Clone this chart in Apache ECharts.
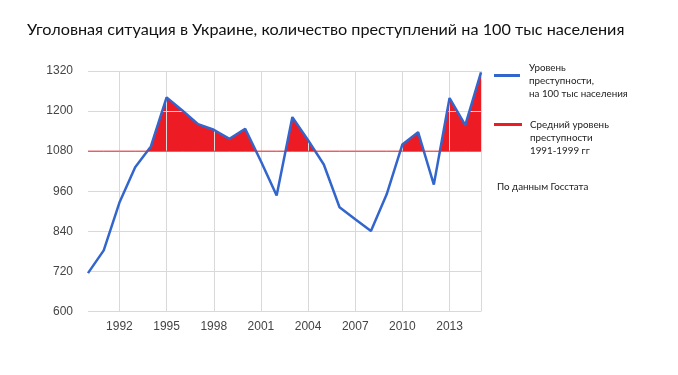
<!DOCTYPE html>
<html>
<head>
<meta charset="utf-8">
<script src="https://cdn.jsdelivr.net/npm/echarts@6/dist/echarts.min.js"></script>
<style>
  html, body { margin: 0; padding: 0; background: #fff; }
  #chart { width: 678px; height: 375px; }
</style>
</head>
<body>
<div id="chart"></div>
<script>
// ---- data ----
const years = ['1990','1991','1992','1993','1994','1995','1996','1997','1998','1999','2000',
  '2001','2002','2003','2004','2005','2006','2007','2008','2009','2010','2011','2012','2013','2014','2015'];
const crimeRate = [715, 783, 926, 1032, 1094, 1241, 1202, 1161, 1144, 1117, 1147,
  1050, 947, 1182, 1113, 1040, 912, 876, 841, 951, 1100, 1137, 980, 1239, 1158, 1316];
const avgLevel = 1080;               // average 1991-1999
const yTicks = { min: 600, max: 1320, step: 120 };
const labelStartYear = 1992;
const labelStep = 3;

const titleText = 'Уголовная ситуация в Украине, количество преступлений на 100 тыс населения';
const nameRate = 'Уровень\nпреступности,\nна 100 тыс населения';
const nameAvg = 'Средний уровень\nпреступности\n1991-1999 гг';
const sourceText = 'По данным Госстата';

const FONT = 'Lato, "Noto Sans", sans-serif';
const AXFONT = '"Liberation Sans", Arial, sans-serif';
const BLUE = '#3366cc';
const RED = '#ed1c24';
const REDLINE = '#e3262c';
const GRID = '#d9d9d9';

const chart = echarts.init(document.getElementById('chart'), null, { renderer: 'canvas' });
chart.setOption({
  animation: false,
  backgroundColor: '#fff',
  title: [
    { text: titleText, left: 27, top: 22, padding: 0,
      textStyle: { fontFamily: FONT, fontSize: 16.2, fontWeight: 'normal', color: '#111' } },
    { text: sourceText, left: 497, top: 182, padding: 0,
      textStyle: { fontFamily: FONT, fontSize: 9.8, fontWeight: 'normal', color: '#222' } }
  ],
  legend: [
    { data: [nameRate], left: 494, top: 61, padding: 0, orient: 'vertical',
      icon: 'path://M0,0H26V3H0Z M0,13H0.01V13.01H0Z',
      itemWidth: 26, itemHeight: 13, selectedMode: false,
      textStyle: { fontFamily: FONT, fontSize: 9.8, lineHeight: 13, color: '#222', padding: [0,0,0,4] } },
    { data: [nameAvg], left: 494, top: 118, padding: 0, orient: 'vertical',
      icon: 'path://M0,0H28V3H0Z M0,29H0.01V29.01H0Z',
      itemWidth: 28, itemHeight: 29, selectedMode: false,
      textStyle: { fontFamily: FONT, fontSize: 9.8, lineHeight: 13, color: '#222', padding: [0,0,0,3] } }
  ],
  grid: { left: 88, right: 197, top: 71, bottom: 63.5, containLabel: false },
  xAxis: {
    type: 'category', data: years, boundaryGap: false, z: 2,
    axisLine: { show: false }, axisTick: { show: false },
    axisLabel: {
      interval: (i, v) => (+v >= labelStartYear) && ((+v - labelStartYear) % labelStep === 0),
      margin: 9, color: '#444', fontFamily: AXFONT, fontSize: 12
    },
    splitLine: {
      show: true,
      interval: (i, v) => i === years.length - 1 || ((+v >= labelStartYear) && ((+v - labelStartYear) % labelStep === 0)),
      lineStyle: { color: GRID, width: 1 }
    }
  },
  yAxis: {
    type: 'value', min: yTicks.min, max: yTicks.max, interval: yTicks.step, z: 2,
    axisLine: { show: false }, axisTick: { show: false },
    axisLabel: { margin: 15, color: '#444', fontFamily: AXFONT, fontSize: 12, formatter: v => String(v) },
    splitLine: { show: true, lineStyle: { color: GRID, width: 1 } }
  },
  visualMap: {
    show: false, type: 'piecewise', seriesIndex: 0, dimension: 1,
    pieces: [
      { gt: avgLevel, lte: yTicks.max, color: RED },
      { gte: yTicks.min, lte: avgLevel, color: 'rgba(255,255,255,0)' }
    ],
    outOfRange: { color: 'rgba(255,255,255,0)' }
  },
  series: [
    { name: 'fill', type: 'line', data: crimeRate, z: 1, symbol: 'none', silent: true,
      lineStyle: { width: 0, opacity: 0 },
      areaStyle: { origin: avgLevel, opacity: 1 } },
    { name: nameRate, type: 'line', data: crimeRate, z: 3, symbol: 'none',
      color: BLUE, lineStyle: { color: BLUE, width: 2.5 } },
    { name: nameAvg, type: 'line', data: years.map(() => avgLevel), z: 4, symbol: 'none', silent: true,
      color: RED, lineStyle: { color: REDLINE, width: 1 } }
  ]
});
</script>
</body>
</html>
